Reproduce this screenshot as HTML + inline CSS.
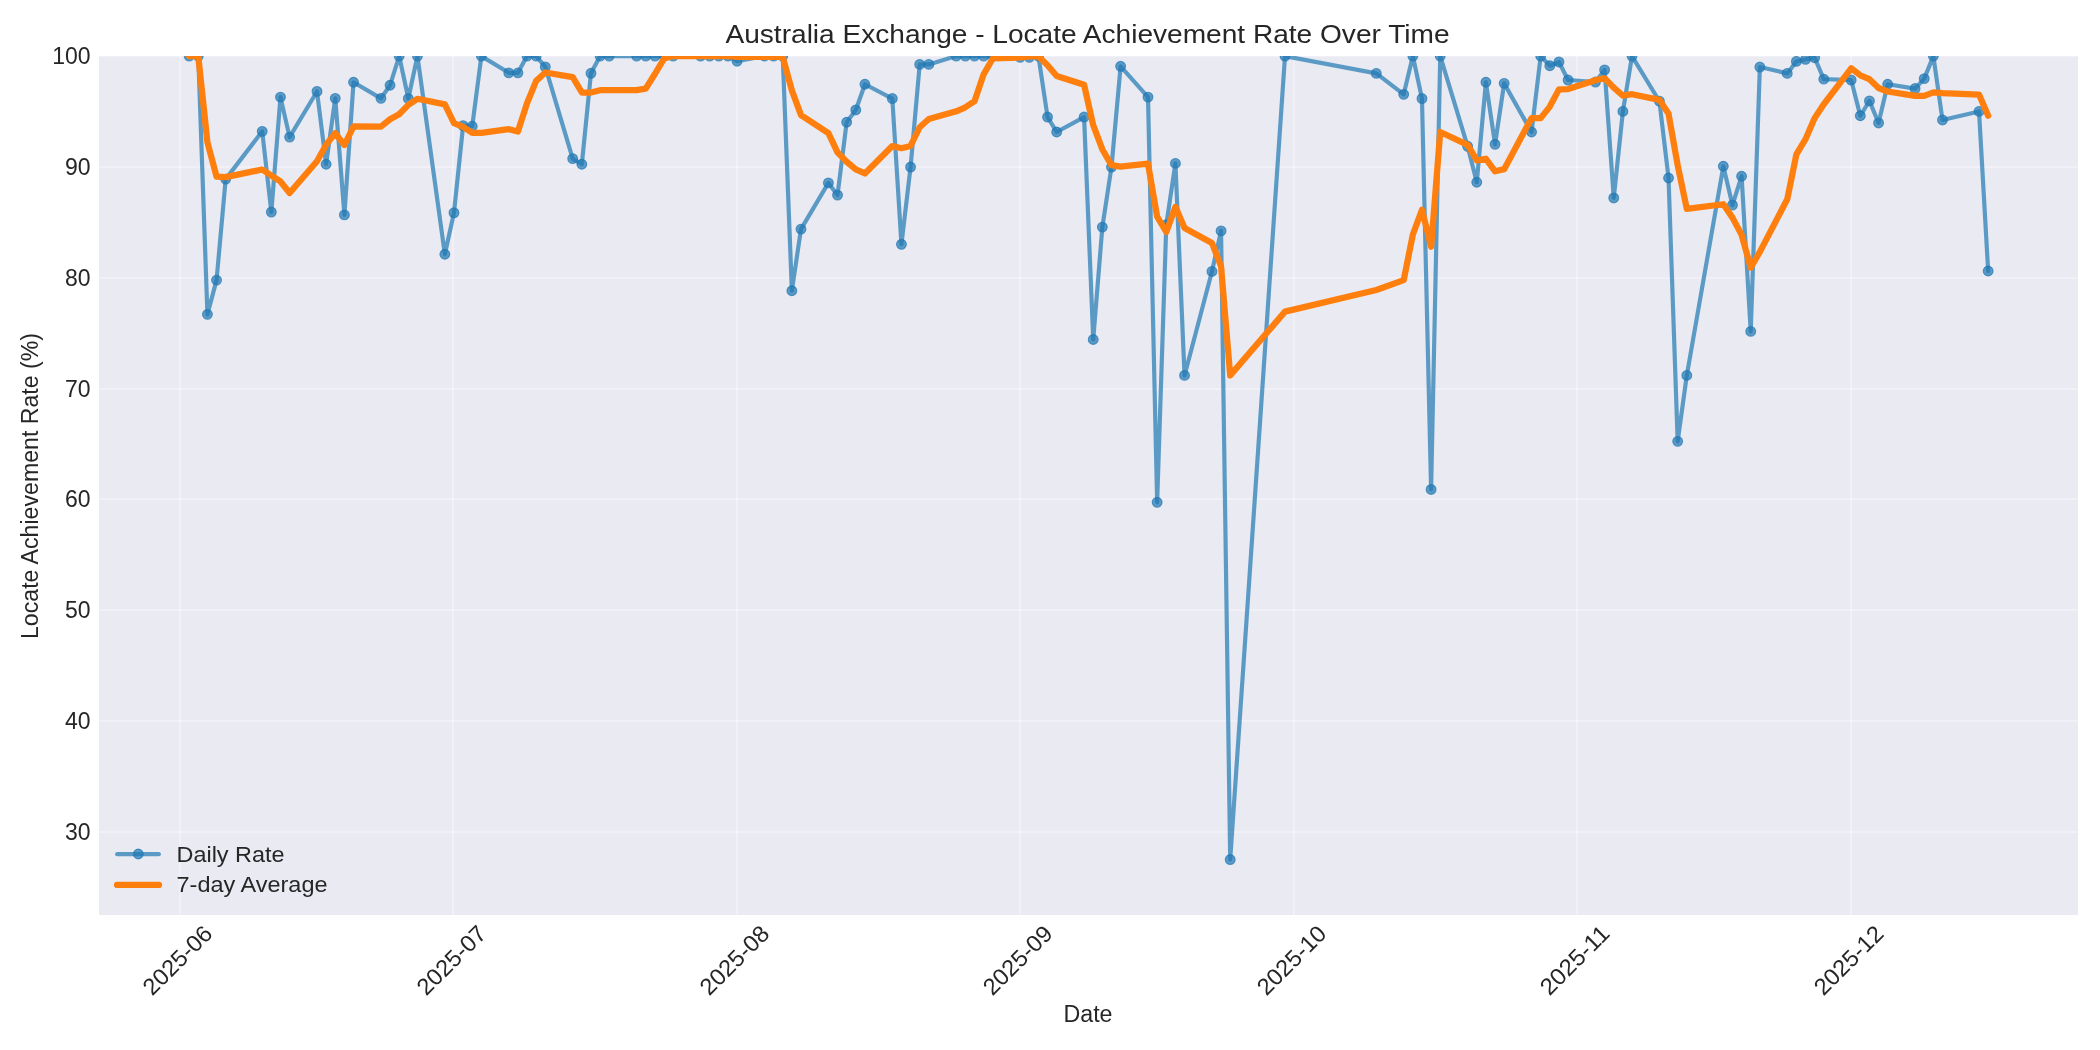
<!DOCTYPE html>
<html><head><meta charset="utf-8"><style>
html,body{margin:0;padding:0;background:#fff;}
svg{display:block;will-change:transform;}
text{font-family:"Liberation Sans",sans-serif;fill:#262626;}
</style></head><body>
<svg width="2100" height="1050" viewBox="0 0 2100 1050">
<defs><clipPath id="ax"><rect x="99.0" y="56.0" width="1979.0" height="859.0"/></clipPath></defs>
<rect x="0" y="0" width="2100" height="1050" fill="#ffffff"/>
<rect x="99.0" y="56.0" width="1979.0" height="859" fill="#eaeaf2"/>
<g stroke="#ffffff" stroke-opacity="0.3" stroke-width="2"><line x1="99.0" y1="832" x2="2078.0" y2="832"/><line x1="99.0" y1="721" x2="2078.0" y2="721"/><line x1="99.0" y1="610" x2="2078.0" y2="610"/><line x1="99.0" y1="499" x2="2078.0" y2="499"/><line x1="99.0" y1="389" x2="2078.0" y2="389"/><line x1="99.0" y1="278" x2="2078.0" y2="278"/><line x1="99.0" y1="167" x2="2078.0" y2="167"/><line x1="99.0" y1="56" x2="2078.0" y2="56"/><line x1="180" y1="56.0" x2="180" y2="915.0"/><line x1="453" y1="56.0" x2="453" y2="915.0"/><line x1="737" y1="56.0" x2="737" y2="915.0"/><line x1="1020" y1="56.0" x2="1020" y2="915.0"/><line x1="1294" y1="56.0" x2="1294" y2="915.0"/><line x1="1577" y1="56.0" x2="1577" y2="915.0"/><line x1="1851" y1="56.0" x2="1851" y2="915.0"/></g>
<g clip-path="url(#ax)">
<polyline points="189.15,56.1 198.28,56.1 207.42,314.34 216.55,280.09 225.68,179.12 262.21,131.36 271.34,212.04 280.47,97.11 289.6,137.12 317,91.46 326.13,164.27 335.26,98.33 344.4,214.92 353.53,82.26 380.92,98.33 390.06,85.25 399.19,56.1 408.32,98.55 417.45,56.1 444.85,254.27 453.98,212.82 463.11,125.7 472.24,126.26 481.38,56.1 508.77,72.84 517.9,72.84 527.04,56.1 536.17,56.1 545.3,66.96 572.7,158.62 581.83,164.27 590.96,73.28 600.09,56.1 609.22,56.1 636.62,56.1 645.75,56.1 654.88,56.1 664.02,56.1 673.15,56.1 700.54,56.1 709.68,56.1 718.81,56.1 727.94,56.1 737.07,61.2 764.47,56.1 773.6,56.1 782.73,56.1 791.86,290.73 801,229.11 828.39,182.89 837.52,195.08 846.66,122.27 855.79,109.96 864.92,84.25 892.32,98.55 901.45,244.29 910.58,167.04 919.71,64.41 928.84,64.41 956.24,56.1 965.37,56.1 974.5,56.1 983.64,56.1 992.77,56.1 1020.16,57.32 1029.3,57.32 1038.43,56.1 1047.56,117.06 1056.69,132.02 1084.09,117.06 1093.22,339.5 1102.35,227.12 1111.48,167.04 1120.62,66.3 1148.01,97.11 1157.14,502.31 1166.28,224.79 1175.41,163.39 1184.54,375.41 1211.94,271.45 1221.07,230.88 1230.2,859.53 1284.99,56.1 1376.31,73.39 1403.71,94.34 1412.84,56.1 1421.97,98.55 1431.1,489.46 1440.24,56.1 1467.63,146.32 1476.76,182.23 1485.9,82.26 1495.03,144.32 1504.16,83.36 1531.56,132.02 1540.69,56.1 1549.82,65.74 1558.95,61.97 1568.08,80.04 1595.48,82.03 1604.61,69.95 1613.74,197.97 1622.88,111.41 1632.01,56.1 1659.4,101.21 1668.54,178.02 1677.67,441.36 1686.8,375.41 1723.33,166.27 1732.46,205.06 1741.59,176.24 1750.72,331.41 1759.86,67.07 1787.25,73.39 1796.38,61.42 1805.52,59.42 1814.65,57.76 1823.78,79.15 1851.18,80.04 1860.31,115.73 1869.44,100.88 1878.57,122.93 1887.7,84.25 1915.1,88.57 1924.23,78.6 1933.36,56.1 1942.5,119.94 1979.02,111.41 1988.16,271.01" fill="none" stroke="#1f77b4" stroke-opacity="0.7" stroke-width="4.17" stroke-linejoin="round" stroke-linecap="round"/>
<g fill="#1f77b4" fill-opacity="0.7" stroke="#1f77b4" stroke-opacity="0.7" stroke-width="1.1"><circle cx="189.15" cy="56.1" r="4.9"/><circle cx="198.28" cy="56.1" r="4.9"/><circle cx="207.42" cy="314.34" r="4.9"/><circle cx="216.55" cy="280.09" r="4.9"/><circle cx="225.68" cy="179.12" r="4.9"/><circle cx="262.21" cy="131.36" r="4.9"/><circle cx="271.34" cy="212.04" r="4.9"/><circle cx="280.47" cy="97.11" r="4.9"/><circle cx="289.6" cy="137.12" r="4.9"/><circle cx="317" cy="91.46" r="4.9"/><circle cx="326.13" cy="164.27" r="4.9"/><circle cx="335.26" cy="98.33" r="4.9"/><circle cx="344.4" cy="214.92" r="4.9"/><circle cx="353.53" cy="82.26" r="4.9"/><circle cx="380.92" cy="98.33" r="4.9"/><circle cx="390.06" cy="85.25" r="4.9"/><circle cx="399.19" cy="56.1" r="4.9"/><circle cx="408.32" cy="98.55" r="4.9"/><circle cx="417.45" cy="56.1" r="4.9"/><circle cx="444.85" cy="254.27" r="4.9"/><circle cx="453.98" cy="212.82" r="4.9"/><circle cx="463.11" cy="125.7" r="4.9"/><circle cx="472.24" cy="126.26" r="4.9"/><circle cx="481.38" cy="56.1" r="4.9"/><circle cx="508.77" cy="72.84" r="4.9"/><circle cx="517.9" cy="72.84" r="4.9"/><circle cx="527.04" cy="56.1" r="4.9"/><circle cx="536.17" cy="56.1" r="4.9"/><circle cx="545.3" cy="66.96" r="4.9"/><circle cx="572.7" cy="158.62" r="4.9"/><circle cx="581.83" cy="164.27" r="4.9"/><circle cx="590.96" cy="73.28" r="4.9"/><circle cx="600.09" cy="56.1" r="4.9"/><circle cx="609.22" cy="56.1" r="4.9"/><circle cx="636.62" cy="56.1" r="4.9"/><circle cx="645.75" cy="56.1" r="4.9"/><circle cx="654.88" cy="56.1" r="4.9"/><circle cx="664.02" cy="56.1" r="4.9"/><circle cx="673.15" cy="56.1" r="4.9"/><circle cx="700.54" cy="56.1" r="4.9"/><circle cx="709.68" cy="56.1" r="4.9"/><circle cx="718.81" cy="56.1" r="4.9"/><circle cx="727.94" cy="56.1" r="4.9"/><circle cx="737.07" cy="61.2" r="4.9"/><circle cx="764.47" cy="56.1" r="4.9"/><circle cx="773.6" cy="56.1" r="4.9"/><circle cx="782.73" cy="56.1" r="4.9"/><circle cx="791.86" cy="290.73" r="4.9"/><circle cx="801" cy="229.11" r="4.9"/><circle cx="828.39" cy="182.89" r="4.9"/><circle cx="837.52" cy="195.08" r="4.9"/><circle cx="846.66" cy="122.27" r="4.9"/><circle cx="855.79" cy="109.96" r="4.9"/><circle cx="864.92" cy="84.25" r="4.9"/><circle cx="892.32" cy="98.55" r="4.9"/><circle cx="901.45" cy="244.29" r="4.9"/><circle cx="910.58" cy="167.04" r="4.9"/><circle cx="919.71" cy="64.41" r="4.9"/><circle cx="928.84" cy="64.41" r="4.9"/><circle cx="956.24" cy="56.1" r="4.9"/><circle cx="965.37" cy="56.1" r="4.9"/><circle cx="974.5" cy="56.1" r="4.9"/><circle cx="983.64" cy="56.1" r="4.9"/><circle cx="992.77" cy="56.1" r="4.9"/><circle cx="1020.16" cy="57.32" r="4.9"/><circle cx="1029.3" cy="57.32" r="4.9"/><circle cx="1038.43" cy="56.1" r="4.9"/><circle cx="1047.56" cy="117.06" r="4.9"/><circle cx="1056.69" cy="132.02" r="4.9"/><circle cx="1084.09" cy="117.06" r="4.9"/><circle cx="1093.22" cy="339.5" r="4.9"/><circle cx="1102.35" cy="227.12" r="4.9"/><circle cx="1111.48" cy="167.04" r="4.9"/><circle cx="1120.62" cy="66.3" r="4.9"/><circle cx="1148.01" cy="97.11" r="4.9"/><circle cx="1157.14" cy="502.31" r="4.9"/><circle cx="1166.28" cy="224.79" r="4.9"/><circle cx="1175.41" cy="163.39" r="4.9"/><circle cx="1184.54" cy="375.41" r="4.9"/><circle cx="1211.94" cy="271.45" r="4.9"/><circle cx="1221.07" cy="230.88" r="4.9"/><circle cx="1230.2" cy="859.53" r="4.9"/><circle cx="1284.99" cy="56.1" r="4.9"/><circle cx="1376.31" cy="73.39" r="4.9"/><circle cx="1403.71" cy="94.34" r="4.9"/><circle cx="1412.84" cy="56.1" r="4.9"/><circle cx="1421.97" cy="98.55" r="4.9"/><circle cx="1431.1" cy="489.46" r="4.9"/><circle cx="1440.24" cy="56.1" r="4.9"/><circle cx="1467.63" cy="146.32" r="4.9"/><circle cx="1476.76" cy="182.23" r="4.9"/><circle cx="1485.9" cy="82.26" r="4.9"/><circle cx="1495.03" cy="144.32" r="4.9"/><circle cx="1504.16" cy="83.36" r="4.9"/><circle cx="1531.56" cy="132.02" r="4.9"/><circle cx="1540.69" cy="56.1" r="4.9"/><circle cx="1549.82" cy="65.74" r="4.9"/><circle cx="1558.95" cy="61.97" r="4.9"/><circle cx="1568.08" cy="80.04" r="4.9"/><circle cx="1595.48" cy="82.03" r="4.9"/><circle cx="1604.61" cy="69.95" r="4.9"/><circle cx="1613.74" cy="197.97" r="4.9"/><circle cx="1622.88" cy="111.41" r="4.9"/><circle cx="1632.01" cy="56.1" r="4.9"/><circle cx="1659.4" cy="101.21" r="4.9"/><circle cx="1668.54" cy="178.02" r="4.9"/><circle cx="1677.67" cy="441.36" r="4.9"/><circle cx="1686.8" cy="375.41" r="4.9"/><circle cx="1723.33" cy="166.27" r="4.9"/><circle cx="1732.46" cy="205.06" r="4.9"/><circle cx="1741.59" cy="176.24" r="4.9"/><circle cx="1750.72" cy="331.41" r="4.9"/><circle cx="1759.86" cy="67.07" r="4.9"/><circle cx="1787.25" cy="73.39" r="4.9"/><circle cx="1796.38" cy="61.42" r="4.9"/><circle cx="1805.52" cy="59.42" r="4.9"/><circle cx="1814.65" cy="57.76" r="4.9"/><circle cx="1823.78" cy="79.15" r="4.9"/><circle cx="1851.18" cy="80.04" r="4.9"/><circle cx="1860.31" cy="115.73" r="4.9"/><circle cx="1869.44" cy="100.88" r="4.9"/><circle cx="1878.57" cy="122.93" r="4.9"/><circle cx="1887.7" cy="84.25" r="4.9"/><circle cx="1915.1" cy="88.57" r="4.9"/><circle cx="1924.23" cy="78.6" r="4.9"/><circle cx="1933.36" cy="56.1" r="4.9"/><circle cx="1942.5" cy="119.94" r="4.9"/><circle cx="1979.02" cy="111.41" r="4.9"/><circle cx="1988.16" cy="271.01" r="4.9"/></g>
<polyline points="189.15,56.1 198.28,56.1 207.42,142.18 216.55,176.66 225.68,177.15 262.21,169.52 271.34,175.59 280.47,181.45 289.6,193.03 317,161.19 326.13,144.64 335.26,133.1 344.4,145.04 353.53,126.49 380.92,126.67 390.06,119.26 399.19,114.21 408.32,104.82 417.45,98.79 444.85,104.41 453.98,123.06 463.11,126.97 472.24,132.83 481.38,132.83 508.77,129.15 517.9,131.55 527.04,103.24 536.17,80.85 545.3,72.46 572.7,77.08 581.83,92.53 590.96,92.6 600.09,90.2 609.22,90.2 636.62,90.2 645.75,88.65 654.88,74.01 664.02,58.55 673.15,56.1 700.54,56.1 709.68,56.1 718.81,56.1 727.94,56.1 737.07,56.83 764.47,56.83 773.6,56.83 782.73,56.83 791.86,90.35 801,115.06 828.39,133.18 837.52,152.3 846.66,161.76 855.79,169.45 864.92,173.47 892.32,146.02 901.45,148.19 910.58,145.92 919.71,127.25 928.84,118.99 956.24,111.29 965.37,107.27 974.5,101.21 983.64,74.32 992.77,58.47 1020.16,57.46 1029.3,56.45 1038.43,56.45 1047.56,65.16 1056.69,76 1084.09,84.71 1093.22,125.2 1102.35,149.45 1111.48,165.13 1120.62,166.58 1148.01,163.73 1157.14,216.63 1166.28,232.02 1175.41,206.86 1184.54,228.05 1211.94,242.96 1221.07,266.48 1230.2,375.39 1284.99,311.65 1376.31,290.02 1403.71,280.16 1412.84,234.54 1421.97,209.84 1431.1,246.78 1440.24,132 1467.63,144.89 1476.76,160.44 1485.9,158.72 1495.03,171.32 1504.16,169.15 1531.56,118.09 1540.69,118.09 1549.82,106.58 1558.95,89.4 1568.08,89.08 1595.48,80.18 1604.61,78.27 1613.74,87.69 1622.88,95.59 1632.01,94.21 1659.4,99.82 1668.54,113.81 1677.67,165.14 1686.8,208.78 1723.33,204.25 1732.46,217.63 1741.59,234.79 1750.72,267.68 1759.86,251.83 1787.25,199.26 1796.38,154.41 1805.52,139.15 1814.65,118.1 1823.78,104.23 1851.18,68.32 1860.31,75.27 1869.44,79.2 1878.57,87.99 1887.7,91.53 1915.1,95.94 1924.23,95.86 1933.36,92.44 1942.5,93.04 1979.02,94.54 1988.16,115.7" fill="none" stroke="#ff7f0e" stroke-width="6.25" stroke-linejoin="round" stroke-linecap="round"/>
</g>
<g font-size="22"><text x="90.6" y="839.83" font-size="23" text-anchor="end">30</text><text x="90.6" y="729" font-size="23" text-anchor="end">40</text><text x="90.6" y="618.16" font-size="23" text-anchor="end">50</text><text x="90.6" y="507.33" font-size="23" text-anchor="end">60</text><text x="90.6" y="396.5" font-size="23" text-anchor="end">70</text><text x="90.6" y="285.67" font-size="23" text-anchor="end">80</text><text x="90.6" y="174.83" font-size="23" text-anchor="end">90</text><text x="90.6" y="64" font-size="23" text-anchor="end">100</text><text transform="translate(177.42,960.2) rotate(-45)" x="0" y="8.0" font-size="23.3" text-anchor="middle" textLength="87" lengthAdjust="spacingAndGlyphs">2025-06</text><text transform="translate(451.38,960.2) rotate(-45)" x="0" y="8.0" font-size="23.3" text-anchor="middle" textLength="87" lengthAdjust="spacingAndGlyphs">2025-07</text><text transform="translate(734.47,960.2) rotate(-45)" x="0" y="8.0" font-size="23.3" text-anchor="middle" textLength="87" lengthAdjust="spacingAndGlyphs">2025-08</text><text transform="translate(1017.56,960.2) rotate(-45)" x="0" y="8.0" font-size="23.3" text-anchor="middle" textLength="87" lengthAdjust="spacingAndGlyphs">2025-09</text><text transform="translate(1291.52,960.2) rotate(-45)" x="0" y="8.0" font-size="23.3" text-anchor="middle" textLength="87" lengthAdjust="spacingAndGlyphs">2025-10</text><text transform="translate(1574.62,960.2) rotate(-45)" x="0" y="8.0" font-size="23.3" text-anchor="middle" textLength="87" lengthAdjust="spacingAndGlyphs">2025-11</text><text transform="translate(1848.58,960.2) rotate(-45)" x="0" y="8.0" font-size="23.3" text-anchor="middle" textLength="87" lengthAdjust="spacingAndGlyphs">2025-12</text></g>
<text x="725.5" y="42.9" font-size="26.5" textLength="724" lengthAdjust="spacingAndGlyphs">Australia Exchange - Locate Achievement Rate Over Time</text>
<text x="1063.5" y="1021.8" font-size="23.0" textLength="49" lengthAdjust="spacingAndGlyphs">Date</text>
<text transform="translate(38.2,639) rotate(-90)" x="0" y="0" font-size="23.0" textLength="306" lengthAdjust="spacingAndGlyphs">Locate Achievement Rate (%)</text>
<g>
<line x1="117.2" y1="854.2" x2="158.8" y2="854.2" stroke="#1f77b4" stroke-opacity="0.7" stroke-width="4.17" stroke-linecap="round"/>
<circle cx="138.3" cy="854" r="4.9" fill="#1f77b4" fill-opacity="0.7" stroke="#1f77b4" stroke-opacity="0.7" stroke-width="1.1"/>
<line x1="117" y1="884.9" x2="159" y2="884.9" stroke="#ff7f0e" stroke-width="6.25" stroke-linecap="round"/>
<text x="176.5" y="862" font-size="22.3" textLength="108" lengthAdjust="spacingAndGlyphs">Daily Rate</text>
<text x="176.5" y="892.3" font-size="22.3" textLength="151" lengthAdjust="spacingAndGlyphs">7-day Average</text>
</g>
</svg>
</body></html>
